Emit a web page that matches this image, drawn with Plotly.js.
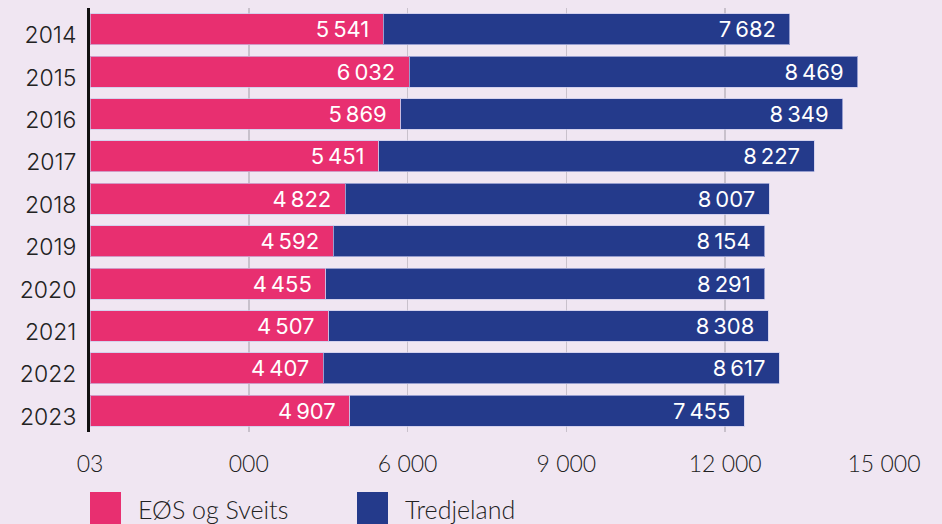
<!DOCTYPE html>
<html>
<head>
<meta charset="utf-8">
<script src="https://cdn.plot.ly/plotly-3.0.1.min.js"></script>
<style>
  html, body { margin: 0; padding: 0; background: #f0e6f2; }
  #chart { width: 942px; height: 524px; }
</style>
</head>
<body>
<div id="chart"></div>
<script>
const years = ['2014','2015','2016','2017','2018','2019','2020','2021','2022','2023'];
const eosSveits = [5541, 6032, 5869, 5451, 4822, 4592, 4455, 4507, 4407, 4907];
const tredjeland = [7682, 8469, 8349, 8227, 8007, 8154, 8291, 8308, 8617, 7455];
const xTickVals = [0, 3000, 6000, 9000, 12000, 15000];
const xTickText = ['03', '000', '6 000', '9 000', '12 000', '15 000'];
const seriesNames = ['EØS og Sveits', 'Tredjeland'];
const seriesColors = ['#e82f70', '#243a8b'];

function fmt(v) {
  return String(v).replace(/\B(?=(\d{3})+(?!\d))/g, '\u2009');
}

const labelFont = {family: 'Inter, "DejaVu Sans", sans-serif', size: 22, color: '#ffffff'};

const traces = [eosSveits, tredjeland].map((vals, i) => ({
  type: 'bar',
  orientation: 'h',
  y: years,
  x: vals,
  name: seriesNames[i],
  marker: {color: seriesColors[i], line: {color: 'rgba(200,200,235,0.7)', width: 1}},
  text: vals.map(v => fmt(v) + '\u2002'),
  textposition: 'inside',
  insidetextanchor: 'end',
  textangle: 0,
  insidetextfont: labelFont,
  constraintext: 'none',
  cliponaxis: false,
  hoverinfo: 'x+name',
  showlegend: false
}));

const shapes = [];
const annotations = [];
const legendX = [90, 357];
seriesNames.forEach((n, i) => {
  shapes.push({
    type: 'rect', xref: 'paper', yref: 'paper',
    x0: (legendX[i] - 90) / 794, x1: (legendX[i] + 31 - 90) / 794,
    y0: -(492 - 432) / 424, y1: -(526 - 432) / 424,
    fillcolor: seriesColors[i], line: {width: 0}, layer: 'above'
  });
  annotations.push({
    xref: 'paper', yref: 'paper',
    x: (legendX[i] + 46 - 90) / 794, y: -(509 - 432) / 424,
    xanchor: 'left', yanchor: 'middle', showarrow: false,
    text: n,
    font: {family: 'Lato, "Open Sans", sans-serif', size: 25, color: '#222222', weight: 300}
  });
});

const layout = {
  width: 942, height: 524,
  margin: {l: 90, r: 58, t: 8, b: 92},
  paper_bgcolor: '#f0e6f2',
  plot_bgcolor: '#f0e6f2',
  barmode: 'stack',
  bargap: 0.27,
  separators: '.\u2009',
  showlegend: false,
  xaxis: {
    range: [0, 15000],
    tickvals: xTickVals,
    ticktext: xTickText,
    showgrid: true,
    gridcolor: '#c9c1cc',
    gridwidth: 1.5,
    zeroline: false,
    showline: false,
    ticks: '',
    ticklabelstandoff: 16,
    tickfont: {family: 'Lato, "Open Sans", sans-serif', size: 23, color: '#222222', weight: 300},
    fixedrange: true
  },
  yaxis: {
    type: 'category',
    autorange: 'reversed',
    showgrid: false,
    zeroline: false,
    showline: true,
    linecolor: '#111111',
    linewidth: 3,
    ticks: '',
    ticklabelstandoff: 6,
    ticklabelshift: -6,
    tickfont: {family: 'Inter, "DejaVu Sans", sans-serif', size: 23, color: '#222222', weight: 300},
    fixedrange: true
  },
  shapes: shapes,
  annotations: annotations
};

Plotly.newPlot('chart', traces, layout, {displayModeBar: false, staticPlot: true});
</script>
</body>
</html>
